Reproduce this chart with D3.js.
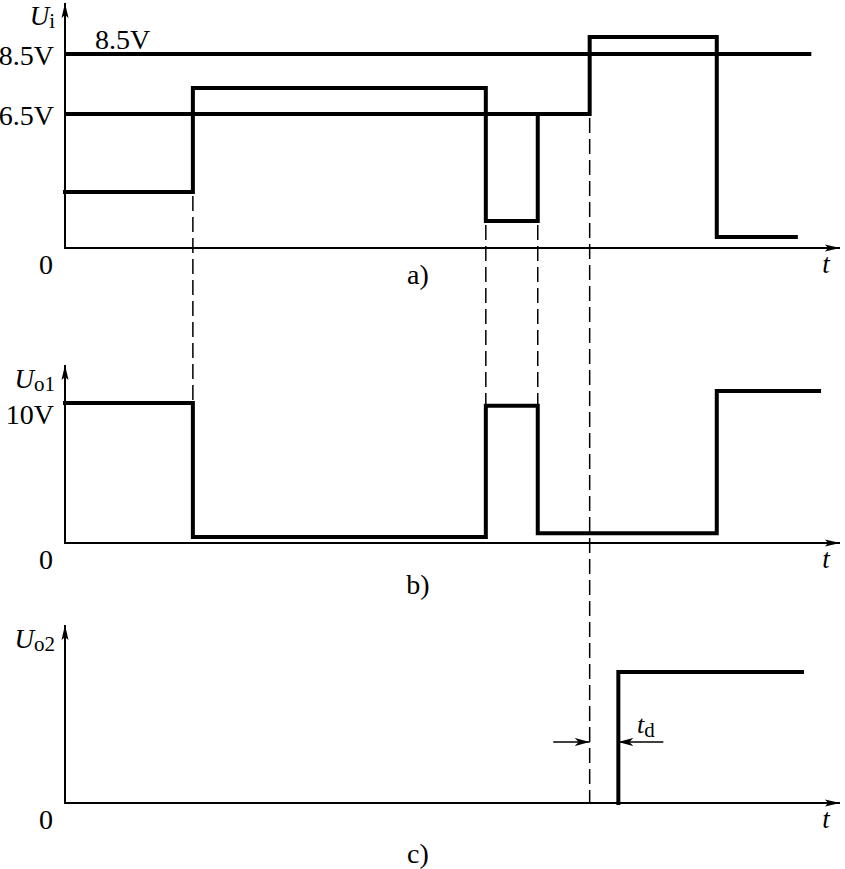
<!DOCTYPE html>
<html>
<head>
<meta charset="utf-8">
<script src="https://cdn.jsdelivr.net/npm/d3@7"></script>
<style>
  body { margin: 0; background: #fff; }
  text { font-family: "Liberation Serif", "Times New Roman", serif; fill: #000; }
</style>
</head>
<body>
<script>
// time breakpoints (arbitrary units, 0..100) and levels
var uiTimes = [0, 16.5, 54.3, 61.0, 67.7, 84.1, 94.3];
var uiValues = [2.72, 7.37, 1.31, 6.5, 9.07, 0.53, 0.53];
var uo1Times = [0, 16.5, 54.3, 61.0, 84.1, 97.3];
var uo1Values = [10, 0.43, 9.8, 0.7, 10.86, 10.86];
var uo2Times = [71.4, 71.4, 95.1];
var uo2Values = [0, 10, 10];
var thresholds = [8.5, 6.5];
var thresholdEnds = [96.3, 67.7];
var thresholdLabels = ["8.5V", "6.5V"];
var tdArrowStarts = [63.0, 77.2];
var tdArrowEnds = [67.7, 71.4];

var width = 845, height = 869;
var svg = d3.select("body").append("svg")
    .attr("width", width)
    .attr("height", height);

var x = d3.scaleLinear().domain([0, 100]).range([65, 840]);
var yA = d3.scaleLinear().domain([0, 6.5, 8.5]).range([248, 114, 54]);
var yB = d3.scaleLinear().domain([0, 10]).range([543, 403]);
var yC = d3.scaleLinear().domain([0, 10]).range([803, 672]);

// arrow heads
var defs = svg.append("defs");
defs.append("marker")
    .attr("id", "arr")
    .attr("markerUnits", "userSpaceOnUse")
    .attr("viewBox", "0 -5 16 10")
    .attr("refX", 15).attr("refY", 0)
    .attr("markerWidth", 16).attr("markerHeight", 10)
    .attr("orient", "auto")
  .append("path")
    .attr("d", "M0,-3.5L15,0L0,3.5L3,0Z")
    .attr("fill", "#000");
defs.append("marker")
    .attr("id", "arrTd")
    .attr("markerUnits", "userSpaceOnUse")
    .attr("viewBox", "0 -5 16 10")
    .attr("refX", 15).attr("refY", 0)
    .attr("markerWidth", 16).attr("markerHeight", 10)
    .attr("orient", "auto")
  .append("path")
    .attr("d", "M0,-4L15,0L0,4L4,0Z")
    .attr("fill", "#000");

function zip(ts, vs) { return ts.map(function(t, i) { return [t, vs[i]]; }); }

function drawAxes(y, top) {
    var y0 = y(0);
    svg.append("line")
        .attr("x1", x(0)).attr("y1", y0)
        .attr("x2", x(100)).attr("y2", y0)
        .attr("stroke", "#000").attr("stroke-width", 2)
        .attr("marker-end", "url(#arr)");
    svg.append("line")
        .attr("x1", x(0)).attr("y1", y0 + 1)
        .attr("x2", x(0)).attr("y2", top)
        .attr("stroke", "#000").attr("stroke-width", 2)
        .attr("marker-end", "url(#arr)");
    svg.append("text")
        .attr("x", 46).attr("y", y0 + 26)
        .attr("text-anchor", "middle")
        .attr("font-size", 28)
        .text("0");
    svg.append("text")
        .attr("x", 826).attr("y", y0 + 25)
        .attr("text-anchor", "middle")
        .attr("font-size", 27)
        .attr("font-style", "italic")
        .text("t");
}

function axisName(xpos, ypos, sub) {
    var t = svg.append("text")
        .attr("x", xpos).attr("y", ypos)
        .attr("text-anchor", "end");
    t.append("tspan").attr("font-size", 27).attr("font-style", "italic").text("U");
    t.append("tspan").attr("font-size", 21).attr("dy", 3).text(sub);
}

function caption(ypos, s) {
    svg.append("text")
        .attr("x", 418).attr("y", ypos)
        .attr("text-anchor", "middle")
        .attr("font-size", 28)
        .text(s);
}

function signal(y, pts) {
    var line = d3.line()
        .x(function(d) { return x(d[0]); })
        .y(function(d) { return y(d[1]); })
        .curve(d3.curveStepAfter);
    svg.append("path")
        .attr("d", line(pts))
        .attr("fill", "none")
        .attr("stroke", "#000")
        .attr("stroke-width", 4)
        .attr("stroke-linejoin", "miter")
        .attr("stroke-linecap", "square");
}

// ---- panel a ----
drawAxes(yA, 3);
axisName(55, 25, "i");
thresholds.forEach(function(v, i) {
    svg.append("line")
        .attr("x1", x(0)).attr("y1", yA(v))
        .attr("x2", x(thresholdEnds[i])).attr("y2", yA(v))
        .attr("stroke", "#000").attr("stroke-width", 4);
    svg.append("text")
        .attr("x", 54).attr("y", yA(v) + 11)
        .attr("text-anchor", "end")
        .attr("font-size", 28)
        .text(thresholdLabels[i]);
});
svg.append("text")
    .attr("x", 95).attr("y", 49)
    .attr("font-size", 28)
    .text(thresholdLabels[0]);
signal(yA, zip(uiTimes, uiValues));
caption(284, "a)");

// ---- panel b ----
drawAxes(yB, 365);
axisName(55, 388, "o1");
svg.append("text")
    .attr("x", 54).attr("y", yB(10) + 21)
    .attr("text-anchor", "end")
    .attr("font-size", 28)
    .text("10V");
signal(yB, zip(uo1Times, uo1Values));
caption(594, "b)");

// ---- panel c ----
drawAxes(yC, 625);
axisName(55, 648, "o2");
signal(yC, zip(uo2Times, uo2Values));
caption(863, "c)");

// ---- dashed guide lines ----
var guides = [
    {t: uiTimes[1], y1: yA(uiValues[0]), y2: yB(uo1Values[0])},
    {t: uiTimes[2], y1: yA(uiValues[2]), y2: yB(uo1Values[2])},
    {t: uiTimes[3], y1: yA(uiValues[2]), y2: yB(uo1Values[2])},
    {t: uiTimes[4], y1: yA(thresholds[1]), y2: yC(0)}
];
svg.selectAll("line.guide")
    .data(guides)
    .enter().append("line")
    .attr("class", "guide")
    .attr("x1", function(d) { return x(d.t); })
    .attr("x2", function(d) { return x(d.t); })
    .attr("y1", function(d) { return d.y1 + 4; })
    .attr("y2", function(d) { return d.y2; })
    .attr("stroke", "#000")
    .attr("stroke-width", 1.5)
    .attr("stroke-dasharray", "15,6");

// ---- t_d arrows ----
var tdY = 742;
tdArrowStarts.forEach(function(s, i) {
    svg.append("line")
        .attr("x1", x(s)).attr("y1", tdY)
        .attr("x2", x(tdArrowEnds[i])).attr("y2", tdY)
        .attr("stroke", "#000").attr("stroke-width", 1.5)
        .attr("marker-end", "url(#arrTd)");
});
var td = svg.append("text").attr("x", 637).attr("y", 733);
td.append("tspan").attr("font-size", 26).attr("font-style", "italic").text("t");
td.append("tspan").attr("font-size", 21).attr("dy", 4).text("d");
</script>
</body>
</html>
